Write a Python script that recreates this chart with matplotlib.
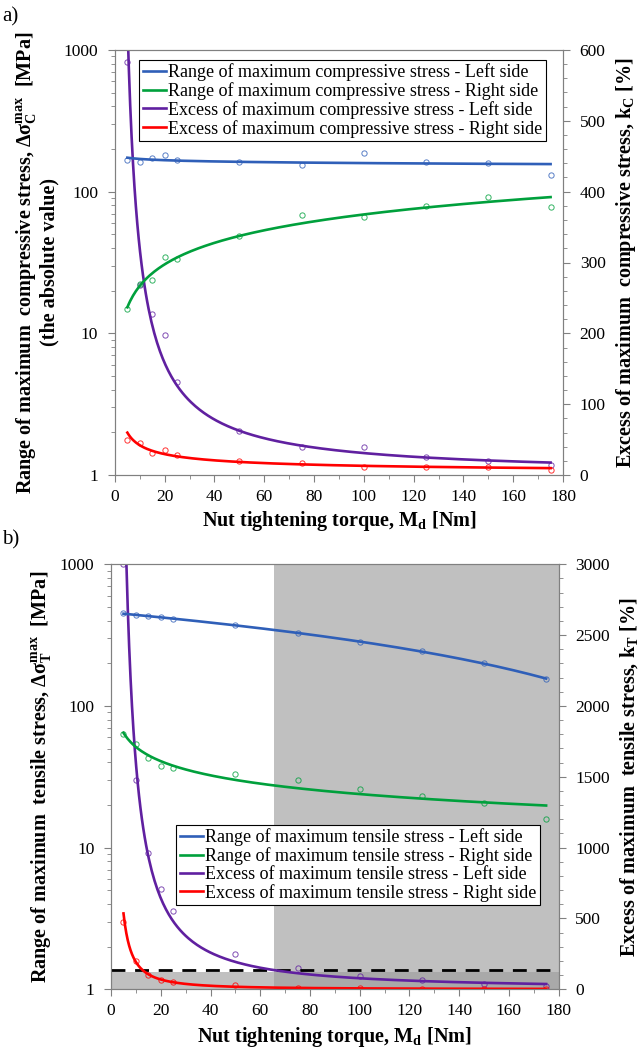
""" Range and excess of maximum stress versus nut tightening torque """

import numpy as np
import matplotlib
matplotlib.use('Agg')
import matplotlib.pyplot as plt
from matplotlib.ticker import MultipleLocator, FixedLocator, LogLocator, NullFormatter
from matplotlib.patches import Rectangle
from matplotlib.transforms import blended_transform_factory

plt.rcParams['font.family'] = ['Liberation Serif', 'DejaVu Serif']
plt.rcParams['mathtext.fontset'] = 'custom'
plt.rcParams['mathtext.rm'] = 'Liberation Serif'
plt.rcParams['mathtext.bf'] = 'Liberation Serif:bold'

# Nut tightening torque [Nm]
torque = [5, 10, 15, 20, 25, 50, 75, 100, 125, 150, 175]

# a) compressive stress
comp_range_left = [167, 161, 172, 180, 167, 161, 154, 188, 163, 160, 131]
comp_range_right = [14.8, 22.2, 23.8, 34.5, 33.4, 48.6, 68.4, 66.5, 78.8, 91.6, 77.5]
comp_excess_left = [583, 268, 228, 198, 132, 62, 39, 39, 25, 20, 14]
comp_excess_right = [49, 45, 31, 36, 28, 20, 17, 12, 12, 12, 7]

# b) tensile stress
tens_range_left = [450, 438, 431, 424, 412, 370, 327, 281, 243, 201, 156]
tens_range_right = [63.6, 53.6, 42.7, 37.5, 36.6, 33.2, 29.9, 26.1, 23.0, 20.8, 16.0]
tens_excess_left = [3000, 1477, 964, 708, 553, 247, 148, 96, 66, 35, 23]
tens_excess_right = [475, 198, 103, 64, 52, 28, 9, 9, 3, 3, 3]

comp_labels = ['Range of maximum compressive stress - Left side',
               'Range of maximum compressive stress - Right side',
               'Excess of maximum compressive stress - Left side',
               'Excess of maximum compressive stress - Right side']
tens_labels = ['Range of maximum tensile stress - Left side',
               'Range of maximum tensile stress - Right side',
               'Excess of maximum tensile stress - Left side',
               'Excess of maximum tensile stress - Right side']

# limit of the excess (dashed line) and shaded zone for panel b
excess_limit = 138
shade_start = 65.6

COLORS = ['#2f5fb8', '#00a03c', '#6020a0', '#ff0000']
SPINE = '#808080'
TICK_FS = 12.5
LEG_FS = 13
LAB_FS = 14.5


def trend(x, y, kind):
    """ Excel-like trend line fitted to the data points """
    x = np.asarray(x, dtype=float)
    y = np.asarray(y, dtype=float)
    xs = np.linspace(x.min(), x.max(), 300)
    if kind == 'linear':
        k = np.polyfit(x, y, 1)
        return xs, np.polyval(k, xs)
    k = np.polyfit(np.log(x), np.log(y), 1)
    return xs, np.exp(k[1]) * xs ** k[0]


def style_axes(ax, ax2):
    for a in (ax, ax2):
        for s in a.spines.values():
            s.set_color(SPINE)
        a.tick_params(which='both', direction='out', color=SPINE, labelsize=TICK_FS, labelcolor='black')
        a.tick_params(which='major', length=5)
        a.tick_params(which='minor', length=3)
        a.tick_params(axis='y', which='major', pad=7)
    ax.tick_params(axis='x', which='major', pad=5)
    ax.set_xlim(0, 180)
    ax.xaxis.set_major_locator(MultipleLocator(20))
    ax.xaxis.set_minor_locator(MultipleLocator(10))
    ax.set_yscale('log')
    ax.set_ylim(1, 1000)
    ax.yaxis.set_major_locator(FixedLocator([1, 10, 100, 1000]))
    ax.set_yticklabels(['1', '10', '100', '1000'])
    ax.yaxis.set_minor_locator(LogLocator(base=10, subs=np.arange(2, 10)))
    ax.yaxis.set_minor_formatter(NullFormatter())


def draw_panel(ax, series, kinds, ymax2, major2, minor2):
    ax2 = ax.twinx()
    handles = []
    for i, (y, kind) in enumerate(zip(series, kinds)):
        target = ax if i < 2 else ax2
        target.plot(torque, y, 'o', ms=3.8, mfc='none', mec=COLORS[i], mew=0.7, alpha=0.8, zorder=3)
        xs, ys = trend(torque, y, kind)
        ln, = target.plot(xs, ys, color=COLORS[i], lw=1.9, zorder=4)
        handles.append(ln)
    ax2.set_ylim(0, ymax2)
    ax2.yaxis.set_major_locator(MultipleLocator(major2))
    ax2.yaxis.set_minor_locator(MultipleLocator(minor2))
    style_axes(ax, ax2)
    ax.set_zorder(ax2.get_zorder() + 1)
    ax.patch.set_visible(False)
    return ax2, handles


def add_legend(ax, handles, labels, anchor):
    leg = ax.legend(handles, labels, loc='upper left', bbox_to_anchor=anchor, borderaxespad=0,
                    fontsize=LEG_FS, frameon=True, fancybox=False, edgecolor='black', framealpha=1,
                    handlelength=1.3, handletextpad=0.12, labelspacing=0.05, borderpad=0.2)
    leg.get_frame().set_linewidth(0.8)


fig = plt.figure(figsize=(6.42, 10.5), dpi=100)

# ---------------- a) ----------------
ax_a = fig.add_axes([0.179, 0.5476, 0.698, 0.4048])
ax_a2, h = draw_panel(ax_a, [comp_range_left, comp_range_right, comp_excess_left, comp_excess_right],
                      ['power', 'power', 'power', 'power'], 600, 100, 20)
add_legend(ax_a, h, comp_labels, (0.054, 0.977))
ax_a.set_xlabel('Nut tightening torque, M$_\\mathregular{d}$ [Nm]', fontsize=LAB_FS, fontweight='bold', labelpad=3)
ax_a.set_ylabel('Range of maximum  compressive stress, Δσ$_\\mathregular{C}^\\mathregular{max}$  [MPa]\n(the absolute value)',
                fontsize=LAB_FS, fontweight='bold', labelpad=3, linespacing=1.0)
ax_a2.set_ylabel('Excess of maximum  compressive stress, k$_\\mathregular{C}$ [%]', fontsize=LAB_FS,
                 fontweight='bold', labelpad=6)
fig.text(0.003, 0.984, 'a)', fontsize=15, va='center')

# ---------------- b) ----------------
ax_b = fig.add_axes([0.173, 0.0578, 0.697, 0.4048])
ax_b2, h = draw_panel(ax_b, [tens_range_left, tens_range_right, tens_excess_left, tens_excess_right],
                      ['linear', 'power', 'power', 'power'], 3000, 500, 100)
# shaded zones: torque range above the limit and excess below the limit
ax_b2.axvspan(shade_start, 180, color='#9c9c9c', alpha=0.635, lw=0, zorder=0)
strip = blended_transform_factory(ax_b2.transAxes, ax_b2.transData)
ax_b2.add_patch(Rectangle((0, 0), 1, excess_limit - 13, transform=strip, color='#9c9c9c',
                          alpha=0.635, lw=0, zorder=0))
ax_b2.axhline(excess_limit, color='black', lw=2, dashes=(5, 3.5), zorder=5)
# move excess lines above the shading
for ln in ax_b2.lines:
    if ln.get_zorder() < 5:
        ln.set_zorder(ln.get_zorder() + 2)
add_legend(ax_b, h, tens_labels, (0.145, 0.387))
ax_b.set_xlabel('Nut tightening torque, M$_\\mathregular{d}$ [Nm]', fontsize=LAB_FS, fontweight='bold', labelpad=4)
ax_b.set_ylabel('Range of maximum  tensile stress, Δσ$_\\mathregular{T}^\\mathregular{max}$  [MPa]',
                fontsize=LAB_FS, fontweight='bold', labelpad=4)
ax_b2.set_ylabel('Excess of maximum  tensile stress, k$_\\mathregular{T}$ [%]', fontsize=LAB_FS,
                 fontweight='bold', labelpad=6)
fig.text(0.003, 0.486, 'b)', fontsize=15, va='center')

fig.savefig('out.png', dpi=100)
